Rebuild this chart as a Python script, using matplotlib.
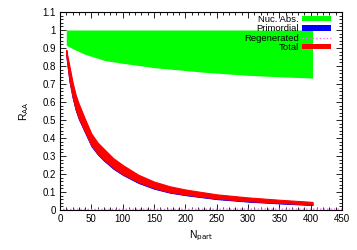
import matplotlib
matplotlib.use("Agg")
import matplotlib.pyplot as plt
from matplotlib.ticker import MultipleLocator, FuncFormatter
from matplotlib.patches import Patch
from matplotlib.lines import Line2D

plt.rcParams['font.family'] = ['Liberation Sans', 'DejaVu Sans']

# Nuclear absorption band
nuc_npart = [10, 24, 40, 72, 100, 152, 200, 231, 300, 350, 403]
nuc_low = [0.915, 0.89, 0.865, 0.83, 0.815, 0.79, 0.775, 0.765, 0.748, 0.74, 0.733]
nuc_high = [1.0, 1.0, 1.0, 1.0, 1.0, 1.0, 1.0, 1.0, 1.0, 1.0, 1.0]

# Total and primordial bands
npart = [10, 15, 20, 25, 30, 40, 50, 60, 70, 85, 100, 125, 150, 175, 200, 250, 300, 350, 403]
total_low = [0.86, 0.72, 0.63, 0.56, 0.51, 0.435, 0.36, 0.315, 0.28, 0.235, 0.2, 0.155, 0.123, 0.1, 0.086, 0.064, 0.05, 0.04, 0.03]
total_high = [0.89, 0.80, 0.71, 0.64, 0.59, 0.505, 0.425, 0.375, 0.34, 0.288, 0.25, 0.196, 0.158, 0.132, 0.114, 0.087, 0.07, 0.057, 0.045]
prim_low = [0.855, 0.714, 0.624, 0.554, 0.504, 0.429, 0.354, 0.309, 0.274, 0.229, 0.195, 0.15, 0.118, 0.096, 0.082, 0.06, 0.046, 0.036, 0.027]
prim_high = [0.88, 0.79, 0.70, 0.63, 0.58, 0.495, 0.415, 0.365, 0.33, 0.278, 0.24, 0.186, 0.148, 0.122, 0.104, 0.078, 0.062, 0.05, 0.038]

# Regenerated
regen_npart = [5, 50, 100, 200, 300, 400, 450]
regen = [0.003, 0.003, 0.004, 0.004, 0.005, 0.005, 0.005]

fig = plt.figure(figsize=(3.57, 2.5), dpi=100)
ax = fig.add_axes([60/357, 40/250, 282/357, 198/250])

ax.fill_between(nuc_npart, nuc_low, nuc_high, color='#00ff00', linewidth=0)
ax.fill_between(npart, prim_low, prim_high, color='#0000ff', linewidth=0.6, edgecolor='#0000ff')
ax.fill_between(npart, total_low, total_high, color='#ff0000', linewidth=0.8, edgecolor='#ff0000')
ax.plot(regen_npart, regen, color='#ff66ff', linestyle=(0, (1, 1.5)), linewidth=1.0)

ax.set_xlim(0, 450)
ax.set_ylim(0, 1.1)
ax.xaxis.set_major_locator(MultipleLocator(50))
ax.xaxis.set_minor_locator(MultipleLocator(10))
ax.yaxis.set_major_locator(MultipleLocator(0.1))
ax.yaxis.set_minor_locator(MultipleLocator(0.02))
ax.yaxis.set_major_formatter(FuncFormatter(lambda v, p: ('%g' % round(v, 2))))
ax.tick_params(which='both', direction='in', top=True, right=True, labelsize=7, width=0.6, pad=3)
ax.tick_params(which='major', length=4)
ax.tick_params(which='minor', length=2)
for s in ax.spines.values():
    s.set_linewidth(0.8)

ax.set_xlabel(r'N$_{\mathrm{part}}$', fontsize=7.5, labelpad=3)
ax.set_ylabel(r'R$_{\mathrm{AA}}$', fontsize=7.5, labelpad=8)

handles = [Patch(facecolor='#00ff00', edgecolor='none'),
           Patch(facecolor='#0000ff', edgecolor='none'),
           Line2D([0], [0], color='#ff66ff', linestyle=(0, (1, 1.5)), linewidth=1.0),
           Patch(facecolor='#ff0000', edgecolor='none')]
labels = ['Nuc. Abs.', 'Primordial', 'Regenerated', 'Total']
leg = ax.legend(handles, labels, loc='upper right', bbox_to_anchor=(0.98, 1.015),
                fontsize=6.8, frameon=False, markerfirst=False, handlelength=3.0,
                handleheight=0.5, labelspacing=0.05, handletextpad=0.35, borderpad=0.1)

fig.savefig('out.png', dpi=100)
